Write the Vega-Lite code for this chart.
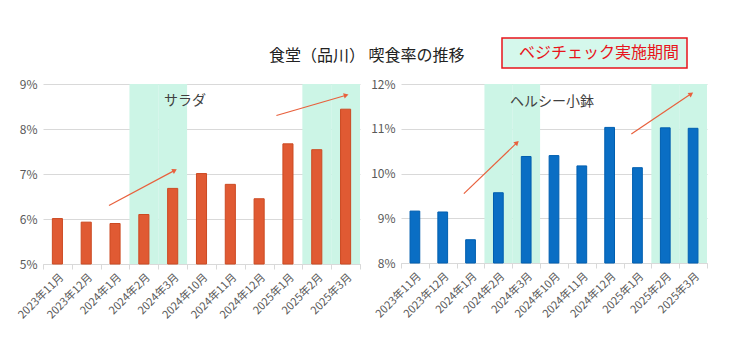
{
  "$schema": "https://vega.github.io/schema/vega-lite/v6.json",
  "background": "white",
  "padding": {"left": 15, "top": 37, "right": 10, "bottom": 5},
  "title": {"text": "食堂（品川） 喫食率の推移", "fontSize": 16, "font": "Noto Sans CJK JP", "fontWeight": "normal", "color": "#222222", "anchor": "middle", "offset": -27, "dx": 5},
  "config": {
    "font": "Noto Sans CJK JP",
    "view": {"stroke": null},
    "axis": {"labelFont": "Noto Sans CJK JP", "labelColor": "#595959", "gridColor": "#d9d9d9", "domainColor": "#d9d9d9", "tickColor": "#d9d9d9"},
    "axisY": {"grid": true, "domain": false, "ticks": false, "labelFontSize": 12, "labelPadding": 6, "labelExpr": "datum.value + '%'", "tickCount": 4, "gridColor": "#d9d9d9"}
  },
  "datasets": {
    "salad": [
      {"month": "2023年11月", "rate": 6.01},
      {"month": "2023年12月", "rate": 5.93},
      {"month": "2024年1月", "rate": 5.90},
      {"month": "2024年2月", "rate": 6.10},
      {"month": "2024年3月", "rate": 6.68},
      {"month": "2024年10月", "rate": 7.01},
      {"month": "2024年11月", "rate": 6.77},
      {"month": "2024年12月", "rate": 6.45},
      {"month": "2025年1月", "rate": 7.67},
      {"month": "2025年2月", "rate": 7.54},
      {"month": "2025年3月", "rate": 8.44}
    ],
    "kobachi": [
      {"month": "2023年11月", "rate": 9.16},
      {"month": "2023年12月", "rate": 9.14},
      {"month": "2024年1月", "rate": 8.52},
      {"month": "2024年2月", "rate": 9.57},
      {"month": "2024年3月", "rate": 10.38},
      {"month": "2024年10月", "rate": 10.40},
      {"month": "2024年11月", "rate": 10.17},
      {"month": "2024年12月", "rate": 11.03},
      {"month": "2025年1月", "rate": 10.13},
      {"month": "2025年2月", "rate": 11.02},
      {"month": "2025年3月", "rate": 11.01}
    ],
    "shade": [
      {"month": "2024年2月", "period": "ベジチェック実施期間"},
      {"month": "2024年3月", "period": "ベジチェック実施期間"},
      {"month": "2025年2月", "period": "ベジチェック実施期間"},
      {"month": "2025年3月", "period": "ベジチェック実施期間"}
    ],
    "arrowsL": [
      {"id": 1, "x": 2.29, "y": 6.30, "x2": 4.57, "y2": 7.08},
      {"id": 2, "x": 8.10, "y": 8.30, "x2": 10.52, "y2": 8.75}
    ],
    "arrowsR": [
      {"id": 1, "x": 2.26, "y": 9.55, "x2": 4.17, "y2": 10.69},
      {"id": 2, "x": 8.28, "y": 10.88, "x2": 10.43, "y2": 11.78}
    ],
    "labelL": [{"label": "サラダ", "x": 4.93, "y": 8.62}],
    "labelR": [{"label": "ヘルシー小鉢", "x": 5.43, "y": 11.60}]
  },
  "spacing": 41,
  "bounds": "flush",
  "hconcat": [
    {
      "width": 317,
      "height": 180,
      "layer": [
        {
          "layer": [
            {
              "data": {"name": "shade"},
              "mark": {"type": "bar", "width": {"band": 1}},
              "encoding": {
                "x": {"field": "month", "type": "nominal", "sort": null,
                  "scale": {"domain": ["2023年11月","2023年12月","2024年1月","2024年2月","2024年3月","2024年10月","2024年11月","2024年12月","2025年1月","2025年2月","2025年3月"], "paddingInner": 0, "paddingOuter": 0},
                  "axis": {"title": null, "labelAngle": -45, "labelFontSize": 11, "tickBand": "extent", "tickSize": 5, "labelPadding": 2}},
                "y": {"datum": 9, "type": "quantitative", "scale": {"domain": [5, 9], "nice": false, "zero": false}, "axis": {"title": null, "grid": true}},
                "y2": {"datum": 5},
                "fill": {"field": "period", "type": "nominal", "scale": {"range": ["#CCF5E6"]},
                  "legend": {"title": null, "orient": "none", "legendX": 459, "legendY": -46,
                    "fillColor": "#D5F8EC", "strokeColor": "#E8141B", "padding": 7,
                    "symbolSize": 16, "symbolOpacity": 0, "symbolStrokeWidth": 0, "labelOffset": -6,
                    "labelFontSize": 16, "labelColor": "#E8141B", "labelFont": "Noto Sans CJK JP", "labelLimit": 300,
                    "encode": {"legend": {"update": {"strokeWidth": {"value": 1.5}}}}}}
              }
            },
            {
              "data": {"name": "salad"},
              "mark": {"type": "bar", "width": {"band": 0.35}, "color": "#E05A33", "stroke": "#CC4A22", "strokeWidth": 1},
              "encoding": {
                "x": {"field": "month", "type": "nominal", "sort": null},
                "y": {"field": "rate", "type": "quantitative", "axis": {"title": null, "grid": true}},
                "y2": {"datum": 5}
              }
            }
          ]
        },
        {
          "layer": [
            {
              "data": {"name": "arrowsL"},
              "mark": {"type": "rule", "color": "#E8603C", "strokeWidth": 1.2},
              "encoding": {
                "x": {"field": "x", "type": "quantitative", "scale": {"domain": [0, 11], "nice": false, "zero": false}, "axis": null},
                "y": {"field": "y", "type": "quantitative", "axis": {"title": null, "grid": true}},
                "x2": {"field": "x2"},
                "y2": {"field": "y2"}
              }
            },
            {
              "data": {"name": "arrowsL"},
              "transform": [{"filter": "datum.id == 1"}],
              "mark": {"type": "point", "shape": "triangle-up", "filled": true, "color": "#E8603C", "opacity": 1, "size": 30, "angle": 62},
              "encoding": {
                "x": {"field": "x2", "type": "quantitative"},
                "y": {"field": "y2", "type": "quantitative", "axis": {"title": null, "grid": true}}
              }
            },
            {
              "data": {"name": "arrowsL"},
              "transform": [{"filter": "datum.id == 2"}],
              "mark": {"type": "point", "shape": "triangle-up", "filled": true, "color": "#E8603C", "opacity": 1, "size": 30, "angle": 74},
              "encoding": {
                "x": {"field": "x2", "type": "quantitative"},
                "y": {"field": "y2", "type": "quantitative", "axis": {"title": null, "grid": true}}
              }
            },
            {
              "data": {"name": "labelL"},
              "mark": {"type": "text", "fontSize": 14, "color": "#404040", "font": "Noto Sans CJK JP"},
              "encoding": {
                "x": {"field": "x", "type": "quantitative"},
                "y": {"field": "y", "type": "quantitative", "axis": {"title": null, "grid": true}},
                "text": {"field": "label"}
              }
            }
          ]
        }
      ],
      "resolve": {"scale": {"x": "independent"}}
    },
    {
      "width": 306,
      "height": 179,
      "layer": [
        {
          "layer": [
            {
              "data": {"name": "shade"},
              "mark": {"type": "bar", "width": {"band": 1}, "color": "#CCF5E6"},
              "encoding": {
                "x": {"field": "month", "type": "nominal", "sort": null,
                  "scale": {"domain": ["2023年11月","2023年12月","2024年1月","2024年2月","2024年3月","2024年10月","2024年11月","2024年12月","2025年1月","2025年2月","2025年3月"], "paddingInner": 0, "paddingOuter": 0},
                  "axis": {"title": null, "labelAngle": -45, "labelFontSize": 11, "tickBand": "extent", "tickSize": 5, "labelPadding": 2}},
                "y": {"datum": 12, "type": "quantitative", "scale": {"domain": [8, 12], "nice": false, "zero": false}, "axis": {"title": null, "grid": true}},
                "y2": {"datum": 8}
              }
            },
            {
              "data": {"name": "kobachi"},
              "mark": {"type": "bar", "width": {"band": 0.35}, "color": "#0A6EC4", "stroke": "#005FB0", "strokeWidth": 1},
              "encoding": {
                "x": {"field": "month", "type": "nominal", "sort": null},
                "y": {"field": "rate", "type": "quantitative", "axis": {"title": null, "grid": true}},
                "y2": {"datum": 8}
              }
            }
          ]
        },
        {
          "layer": [
            {
              "data": {"name": "arrowsR"},
              "mark": {"type": "rule", "color": "#E8603C", "strokeWidth": 1.2},
              "encoding": {
                "x": {"field": "x", "type": "quantitative", "scale": {"domain": [0, 11], "nice": false, "zero": false}, "axis": null},
                "y": {"field": "y", "type": "quantitative", "axis": {"title": null, "grid": true}},
                "x2": {"field": "x2"},
                "y2": {"field": "y2"}
              }
            },
            {
              "data": {"name": "arrowsR"},
              "transform": [{"filter": "datum.id == 1"}],
              "mark": {"type": "point", "shape": "triangle-up", "filled": true, "color": "#E8603C", "opacity": 1, "size": 30, "angle": 46},
              "encoding": {
                "x": {"field": "x2", "type": "quantitative"},
                "y": {"field": "y2", "type": "quantitative", "axis": {"title": null, "grid": true}}
              }
            },
            {
              "data": {"name": "arrowsR"},
              "transform": [{"filter": "datum.id == 2"}],
              "mark": {"type": "point", "shape": "triangle-up", "filled": true, "color": "#E8603C", "opacity": 1, "size": 30, "angle": 56},
              "encoding": {
                "x": {"field": "x2", "type": "quantitative"},
                "y": {"field": "y2", "type": "quantitative", "axis": {"title": null, "grid": true}}
              }
            },
            {
              "data": {"name": "labelR"},
              "mark": {"type": "text", "fontSize": 14, "color": "#404040", "font": "Noto Sans CJK JP"},
              "encoding": {
                "x": {"field": "x", "type": "quantitative"},
                "y": {"field": "y", "type": "quantitative", "axis": {"title": null, "grid": true}},
                "text": {"field": "label"}
              }
            }
          ]
        }
      ],
      "resolve": {"scale": {"x": "independent"}}
    }
  ]
}
